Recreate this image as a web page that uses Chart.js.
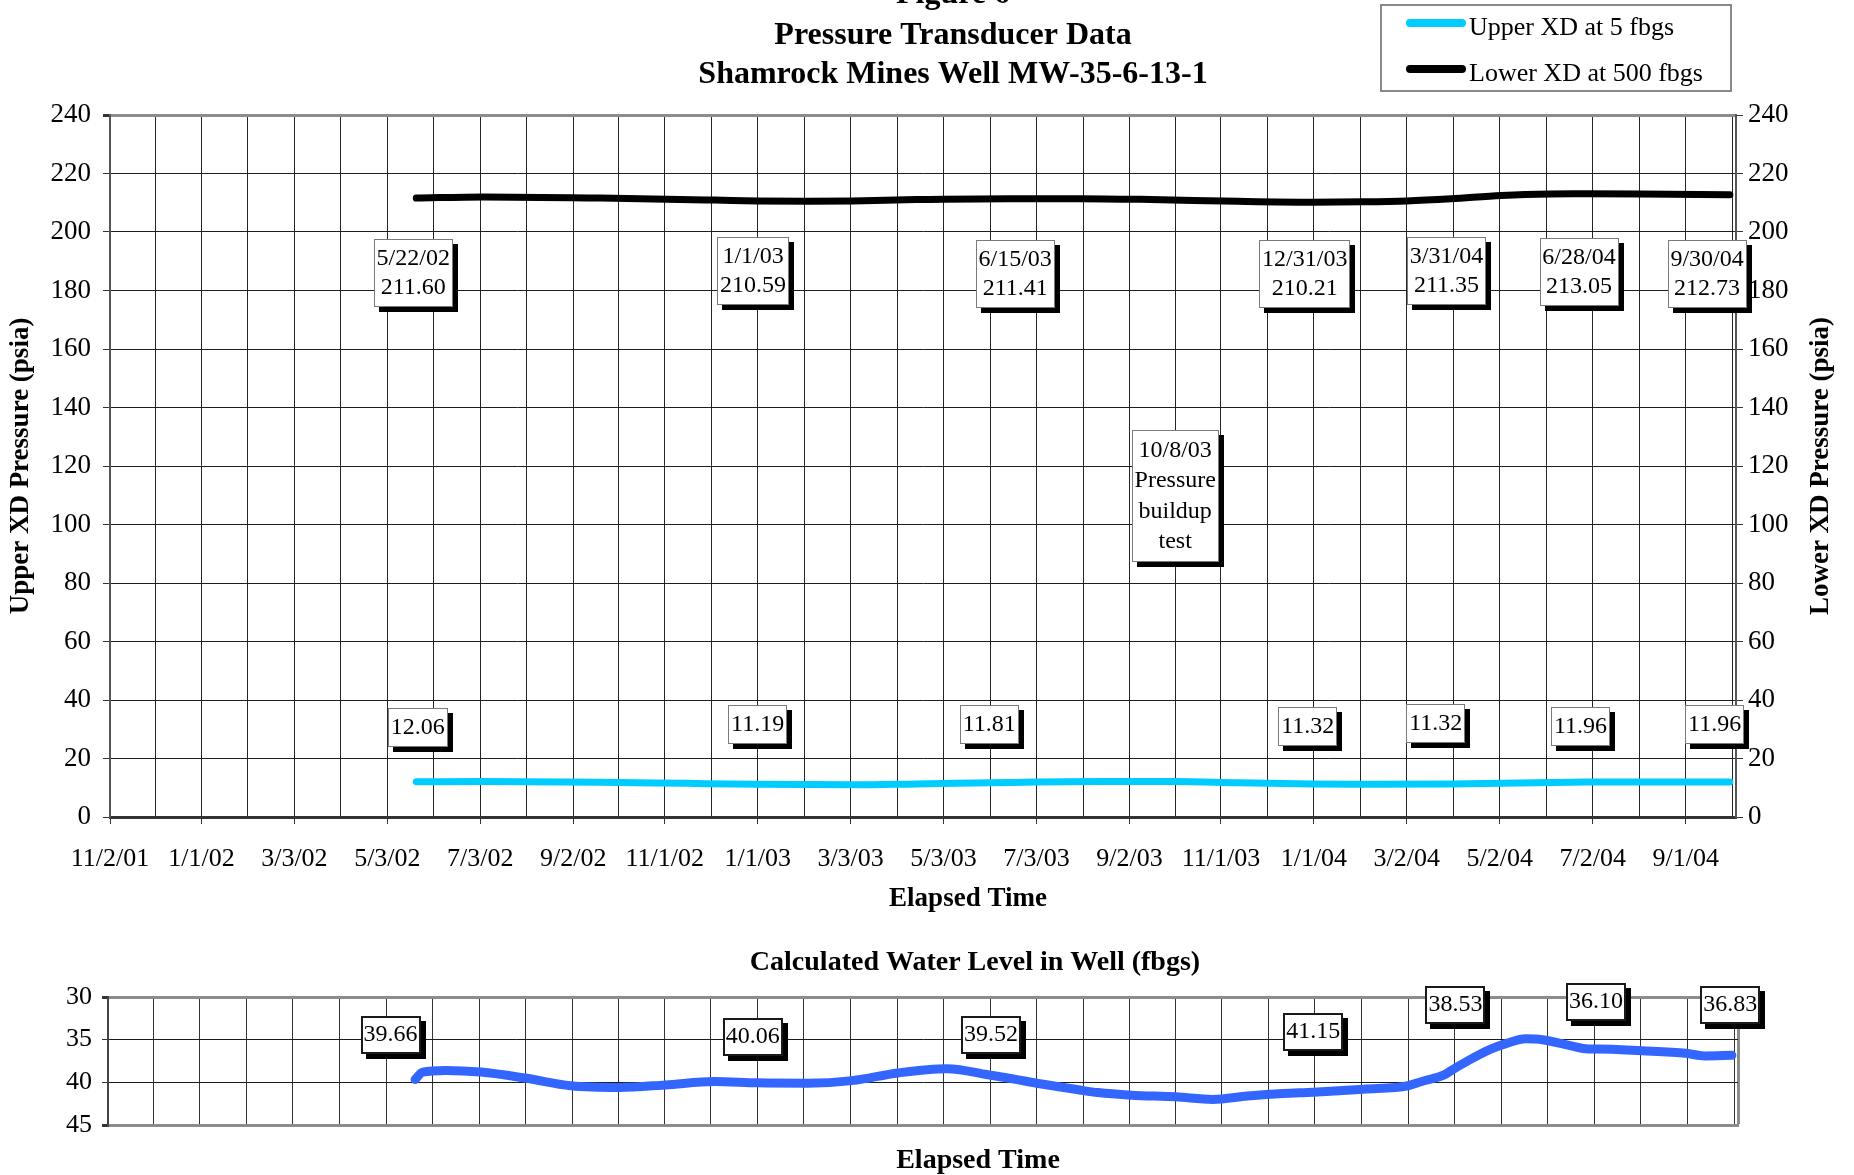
<!DOCTYPE html>
<html>
<head>
<meta charset="utf-8">
<title>Pressure Transducer Data - Shamrock Mines Well MW-35-6-13-1</title>
<script src="https://cdn.jsdelivr.net/npm/chart.js@4.4.1/dist/chart.umd.min.js"></script>
<style>
  html, body { margin: 0; padding: 0; background: #fff; overflow: hidden; }
  #page { position: relative; width: 1854px; height: 1175px; }
  canvas { position: absolute; left: 0; }
  #pressure { top: 0; width: 1854px; height: 930px; }
  #level { top: 930px; width: 1854px; height: 245px; }
</style>
</head>
<body>
<div id="page">
  <canvas id="pressure" width="1854" height="930"></canvas>
  <canvas id="level" width="1854" height="245"></canvas>
</div>
<script>
// ---- data -------------------------------------------------------------
const tickLabels = ['11/2/01', '1/1/02', '3/3/02', '5/3/02', '7/3/02', '9/2/02', '11/1/02', '1/1/03', '3/3/03',
  '5/3/03', '7/3/03', '9/2/03', '11/1/03', '1/1/04', '3/2/04', '5/2/04', '7/2/04', '9/1/04'];
const axisEnd = '10/4/04';

// Lower transducer, 500 fbgs (psia)
const lowerDates = ['5/22/02', '7/5/02', '9/20/02', '12/4/02', '1/1/03', '2/3/03', '3/4/03', '4/15/03', '6/15/03',
  '7/31/03', '9/16/03', '11/12/03', '12/31/03', '2/2/04', '3/2/04', '3/31/04', '5/3/04', '6/4/04', '6/28/04',
  '8/2/04', '9/30/04'];
const lowerPsia = [211.60, 212.0, 211.6, 210.9, 210.59, 210.5, 210.6, 211.1, 211.41,
  211.4, 211.1, 210.5, 210.21, 210.3, 210.6, 211.35, 212.5, 213.0, 213.05,
  213.0, 212.73];

// Upper transducer, 5 fbgs (psia)
const upperDates = ['5/22/02', '7/5/02', '9/20/02', '11/15/02', '1/1/03', '3/4/03', '4/15/03', '6/15/03', '8/12/03',
  '10/2/03', '11/12/03', '12/31/03', '2/2/04', '3/31/04', '5/3/04', '6/28/04', '8/2/04', '9/30/04'];
const upperPsia = [12.06, 12.1, 11.9, 11.5, 11.19, 11.0, 11.3, 11.81, 12.1,
  12.1, 11.7, 11.32, 11.2, 11.32, 11.5, 11.96, 12.0, 11.96];

// Calculated water level (feet below ground surface)
const levelDates = ['5/22/02', '5/27/02', '6/11/02', '7/4/02', '8/2/02', '9/1/02', '10/3/02', '11/2/02', '12/4/02',
  '1/1/03', '2/3/03', '3/4/03', '4/3/03', '5/5/03', '6/4/03', '6/15/03', '7/6/03', '7/31/03', '8/12/03', '9/3/03',
  '10/2/03', '10/26/03', '11/18/03', '12/11/03', '12/31/03', '2/2/04', '3/2/04', '3/11/04', '3/26/04', '3/31/04',
  '4/9/04', '4/24/04', '5/6/04', '5/18/04', '5/29/04', '6/16/04', '6/28/04', '7/4/04', '8/2/04', '8/31/04',
  '9/12/04', '9/30/04'];
const levelFbgs = [39.66, 38.8, 38.6, 38.8, 39.5, 40.4, 40.6, 40.3, 39.9,
  40.06, 40.1, 39.8, 38.9, 38.4, 39.2, 39.52, 40.2, 40.9, 41.2, 41.5,
  41.7, 42.0, 41.6, 41.3, 41.15, 40.8, 40.4, 39.9, 39.1, 38.53,
  37.6, 36.2, 35.4, 34.9, 35.0, 35.7, 36.10, 36.1, 36.3, 36.6,
  36.9, 36.83];

// Readings that carry a call-out box
const noteDates = ['5/22/02', '1/1/03', '6/15/03', '12/31/03', '3/31/04', '6/28/04', '9/30/04'];

// Call-out placement: [date under the box centre, axis value at the box centre]
const lowerNoteAt = [['5/20/02', 185.9], ['12/29/02', 186.7], ['6/19/03', 185.5], ['12/26/03', 185.5],
  ['3/28/04', 186.7], ['6/23/04', 186.2], ['9/15/04', 185.5]];
const upperNoteAt = [['5/23/02', 30.7], ['1/1/03', 31.5], ['6/2/03', 31.5], ['12/28/03', 31.1],
  ['3/21/04', 31.9], ['6/24/04', 31.1], ['9/20/04', 31.5]];
const levelNoteAt = [['5/6/02', 34.5], ['12/29/02', 34.65], ['6/3/03', 34.4], ['12/31/03', 34.1],
  ['4/2/04', 30.9], ['7/3/04', 30.6], ['9/29/04', 30.9]];
const buildupNote = { at: ['10/2/03', 109.6], text: ['10/8/03', 'Pressure', 'buildup', 'test'] };

// ---- helpers ----------------------------------------------------------
const SERIF = "'Liberation Serif', 'Times New Roman', Times, serif";
const ORIGIN = Date.UTC(2001, 10, 2);
function dayOf(s) {
  const [m, d, y] = s.split('/').map(Number);
  return Math.round((Date.UTC(2000 + y, m - 1, d) - ORIGIN) / 86400000);
}
const toPoints = (dates, vals) => dates.map((d, i) => ({ x: dayOf(d), y: vals[i] }));
const valueAt = (dates, vals, d) => vals[dates.indexOf(d)];

const majorDays = tickLabels.map(dayOf);
const endDay = dayOf(axisEnd);

// major ticks carry the date labels; a plain grid line sits half way between them
function dateTicks(withEnd) {
  const t = [];
  majorDays.forEach((d, i) => {
    t.push({ value: d });
    const step = i + 1 < majorDays.length ? majorDays[i + 1] - d : d - majorDays[i - 1];
    const mid = d + step / 2;
    if (mid < endDay) t.push({ value: mid });
  });
  if (withEnd) t.push({ value: endDay });
  return t;
}
const isMajor = v => majorDays.indexOf(v) !== -1;

function drawNote(ctx, cx, cy, lines, o) {
  ctx.save();
  ctx.font = o.font;
  const w = Math.round(Math.max(...lines.map(t => ctx.measureText(t).width)) + 2 * o.padX);
  const h = Math.round(lines.length * o.lineH + 2 * o.padY);
  const x = Math.round(cx - w / 2), y = Math.round(cy - h / 2);
  ctx.fillStyle = '#000';
  ctx.fillRect(x + o.shadow, y + o.shadow, w, h);
  ctx.fillStyle = '#fff';
  ctx.fillRect(x, y, w, h);
  ctx.strokeStyle = o.border;
  ctx.lineWidth = o.borderWidth;
  ctx.strokeRect(x + o.borderWidth / 2, y + o.borderWidth / 2, w - o.borderWidth, h - o.borderWidth);
  ctx.fillStyle = '#000';
  ctx.textAlign = 'center';
  ctx.textBaseline = 'middle';
  lines.forEach((t, i) => ctx.fillText(t, cx, y + o.padY + o.lineH * (i + 0.5)));
  ctx.restore();
}

function drawText(ctx, text, x, y, font, rotate) {
  ctx.save();
  ctx.font = font;
  ctx.fillStyle = '#000';
  ctx.textAlign = 'center';
  ctx.textBaseline = 'alphabetic';
  ctx.translate(x, y);
  if (rotate) ctx.rotate(rotate);
  ctx.fillText(text, 0, 0);
  ctx.restore();
}

Chart.defaults.font.family = SERIF;
Chart.defaults.color = '#000';

const noteStyle = { font: '24px ' + SERIF, padX: 3, padY: 5, lineH: 29, shadow: 5, border: '#7a7a7a', borderWidth: 1 };
const levelNoteStyle = { font: '24px ' + SERIF, padX: 3, padY: 4, lineH: 30, shadow: 5, border: '#1a1a1a', borderWidth: 2 };

// ---- pressure chart ---------------------------------------------------
const pressureDecor = {
  id: 'pressureDecor',
  afterDraw(chart) {
    const ctx = chart.ctx;
    const xs = chart.scales.x, ys = chart.scales.y;
    // headings
    const hf = 'bold 32px ' + SERIF;
    drawText(ctx, 'Figure 6', 953, 3, hf);
    drawText(ctx, 'Pressure Transducer Data', 953, 44, hf);
    drawText(ctx, 'Shamrock Mines Well MW-35-6-13-1', 953, 83, hf);
    const af = 'bold 27px ' + SERIF;
    drawText(ctx, 'Elapsed Time', 968, 906, af);
    drawText(ctx, 'Lower XD Pressure (psia)', 1828, 466, af, -Math.PI / 2);

    // legend
    ctx.save();
    ctx.strokeStyle = '#8a8a8a';
    ctx.lineWidth = 2;
    ctx.strokeRect(1381, 5, 350, 86);
    ctx.lineCap = 'round';
    ctx.lineWidth = 8;
    ctx.font = '26px ' + SERIF;
    ctx.textBaseline = 'middle';
    ctx.textAlign = 'left';
    chart.data.datasets.forEach((ds, i) => {
      const y = i === 0 ? 23 : 69;
      ctx.strokeStyle = ds.borderColor;
      ctx.beginPath(); ctx.moveTo(1410, y); ctx.lineTo(1462, y); ctx.stroke();
      ctx.fillStyle = '#000';
      ctx.fillText(ds.label, 1469, y + 5);
    });
    ctx.restore();

    // call-outs
    noteDates.forEach((d, i) => {
      const lv = valueAt(lowerDates, lowerPsia, d);
      const [ld, ly] = lowerNoteAt[i];
      drawNote(ctx, xs.getPixelForValue(dayOf(ld)), ys.getPixelForValue(ly), [d, lv.toFixed(2)], noteStyle);
      const uv = valueAt(upperDates, upperPsia, d);
      const [ud, uy] = upperNoteAt[i];
      drawNote(ctx, xs.getPixelForValue(dayOf(ud)), ys.getPixelForValue(uy), [uv.toFixed(2)], noteStyle);
    });
    drawNote(ctx, xs.getPixelForValue(dayOf(buildupNote.at[0])), ys.getPixelForValue(buildupNote.at[1]),
      buildupNote.text, Object.assign({}, noteStyle, { lineH: 30.5 }));
  }
};

new Chart(document.getElementById('pressure'), {
  type: 'line',
  data: {
    datasets: [
      {
        label: 'Upper XD at 5 fbgs',
        data: toPoints(upperDates, upperPsia),
        borderColor: '#00CCFF',
        borderWidth: 7,
        borderCapStyle: 'round',
        borderJoinStyle: 'round',
        pointRadius: 0,
        cubicInterpolationMode: 'monotone',
        yAxisID: 'y'
      },
      {
        label: 'Lower XD at 500 fbgs',
        data: toPoints(lowerDates, lowerPsia),
        borderColor: '#000000',
        borderWidth: 7,
        borderCapStyle: 'round',
        borderJoinStyle: 'round',
        pointRadius: 0,
        cubicInterpolationMode: 'monotone',
        yAxisID: 'y2'
      }
    ]
  },
  options: {
    responsive: false,
    animation: false,
    devicePixelRatio: 1,
    layout: { padding: { top: 115, left: 0, right: 0, bottom: 0 } },
    plugins: { legend: { display: false }, tooltip: { enabled: false }, title: { display: false } },
    scales: {
      x: {
        type: 'linear',
        min: 0,
        max: endDay,
        afterBuildTicks: s => { s.ticks = dateTicks(false); },
        afterFit: s => { s.height = 113; },
        ticks: {
          autoSkip: false, maxRotation: 0, minRotation: 0, padding: 20,
          font: { size: 26 },
          callback: v => { const i = majorDays.indexOf(v); return i === -1 ? '' : tickLabels[i]; }
        },
        grid: {
          color: '#262626',
          lineWidth: 1,
          tickLength: 7,
          tickColor: c => (c.tick && isMajor(c.tick.value)) ? '#333' : 'rgba(0,0,0,0)'
        },
        border: { color: '#333', width: 3 }
      },
      y: {
        position: 'left',
        min: 0, max: 240,
        afterFit: s => { s.width = 110; },
        ticks: { stepSize: 20, padding: 12, font: { size: 27 } },
        grid: {
          color: c => c.tick.value === 240 ? '#8c8c8c' : '#1e1e1e',
          lineWidth: c => c.tick.value === 240 ? 3 : 1,
          tickLength: 7,
          tickColor: '#333'
        },
        border: { color: '#555', width: 2 },
        title: {
          display: true, text: 'Upper XD Pressure (psia)',
          font: { size: 27, weight: 'bold' }, padding: { top: 5, bottom: 0 }
        }
      },
      y2: {
        position: 'right',
        min: 0, max: 240,
        afterFit: s => { s.width = 118; },
        ticks: { stepSize: 20, padding: 5, font: { size: 27 } },
        grid: { drawOnChartArea: false, tickLength: 7, tickColor: '#333' },
        border: { color: '#555', width: 2 }
      }
    }
  },
  plugins: [pressureDecor]
});

// ---- water level chart ------------------------------------------------
const levelDecor = {
  id: 'levelDecor',
  afterDraw(chart) {
    const ctx = chart.ctx;
    const xs = chart.scales.x, ys = chart.scales.y;
    const af = 'bold 28px ' + SERIF;
    drawText(ctx, 'Calculated Water Level in Well (fbgs)', 975, 40, af);
    drawText(ctx, 'Elapsed Time', 978, 238, af);
    noteDates.forEach((d, i) => {
      const v = valueAt(levelDates, levelFbgs, d);
      const [nd, ny] = levelNoteAt[i];
      drawNote(ctx, xs.getPixelForValue(dayOf(nd)), ys.getPixelForValue(ny), [v.toFixed(2)], levelNoteStyle);
    });
  }
};

new Chart(document.getElementById('level'), {
  type: 'line',
  data: {
    datasets: [{
      label: 'Calculated Water Level in Well (fbgs)',
      data: toPoints(levelDates, levelFbgs),
      borderColor: '#3366FF',
      borderWidth: 9,
      borderCapStyle: 'round',
      borderJoinStyle: 'round',
      pointRadius: 0,
      cubicInterpolationMode: 'monotone'
    }]
  },
  options: {
    responsive: false,
    animation: false,
    devicePixelRatio: 1,
    layout: { padding: { top: 67, left: 0, right: 116, bottom: 0 } },
    plugins: { legend: { display: false }, tooltip: { enabled: false }, title: { display: false } },
    scales: {
      x: {
        type: 'linear',
        min: 0,
        max: endDay,
        afterBuildTicks: s => { s.ticks = dateTicks(true); },
        afterFit: s => { s.height = 50; },
        ticks: { display: false, autoSkip: false, maxRotation: 0 },
        grid: {
          color: c => (c.tick && c.tick.value === endDay) ? '#8c8c8c' : '#333',
          lineWidth: c => (c.tick && c.tick.value === endDay) ? 3 : 1,
          drawTicks: false
        },
        border: { color: '#8c8c8c', width: 3 }
      },
      y: {
        reverse: true,
        min: 30, max: 45,
        afterFit: s => { s.width = 108; },
        ticks: { stepSize: 5, padding: 10, font: { size: 26 } },
        grid: {
          color: c => (c.tick.value === 30 || c.tick.value === 45) ? '#8c8c8c' : '#1a1a1a',
          lineWidth: c => (c.tick.value === 30 || c.tick.value === 45) ? 3 : 1,
          tickLength: 6,
          tickColor: '#333'
        },
        border: { color: '#444', width: 2 }
      }
    }
  },
  plugins: [levelDecor]
});
</script>
</body>
</html>
